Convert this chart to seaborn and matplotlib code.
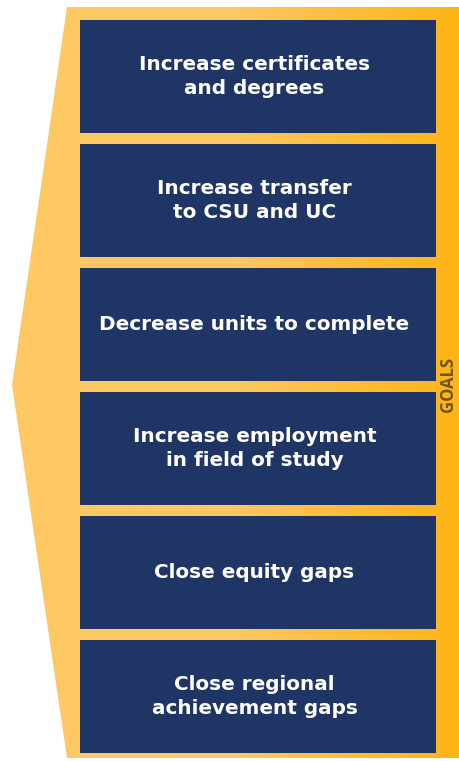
import numpy as np
import matplotlib
matplotlib.use('Agg')
import matplotlib.pyplot as plt
from matplotlib.colors import LinearSegmentedColormap
from matplotlib.patches import Polygon
import seaborn as sns

goals = [
    'Increase certificates\nand degrees',
    'Increase transfer\nto CSU and UC',
    'Decrease units to complete',
    'Increase employment\nin field of study',
    'Close equity gaps',
    'Close regional\nachievement gaps',
]
box_len = [1, 1, 1, 1, 1, 1]
side_label = 'GOALS'

NAVY = '#1f3566'
GOLD_LIGHT = '#fec862'
GOLD_DARK = '#fdb415'

sns.set_theme(style='white')
plt.rcParams['font.family'] = ['DejaVu Sans']

W, H = 460, 761
fig = plt.figure(figsize=(W / 100, H / 100), dpi=100)
fig.patch.set_facecolor('white')

# background arrow, drawn in pixel coordinates
bg = fig.add_axes([0, 0, 1, 1])
bg.set_xlim(0, W)
bg.set_ylim(H, 0)
bg.axis('off')

shape = Polygon([(67, 7), (W, 7), (W, 758), (67, 758), (12, 385)],
                closed=True, facecolor='none', edgecolor='none')
bg.add_patch(shape)
cmap = LinearSegmentedColormap.from_list('gold', [GOLD_LIGHT, GOLD_LIGHT, GOLD_DARK])
grad = np.linspace(0, 1, 256).reshape(1, -1)
img = bg.imshow(grad, cmap=cmap, extent=[12, W, 758, 7], aspect='auto')
img.set_clip_path(shape)

bg.text(448.5, 385, side_label, rotation=90, ha='center', va='center',
        fontsize=12, fontweight='bold', color='#6e5320', family='Open Sans')

# goal boxes as a horizontal bar chart
slot = 124
top, left, right = 20 - 5.5, 80, 436
ax = fig.add_axes([left / W, (H - top - slot * len(goals)) / H,
                   (right - left) / W, slot * len(goals) / H])
sns.barplot(x=box_len, y=goals, orient='h', color=NAVY, width=113 / slot,
            saturation=1, ax=ax, linewidth=0)
ax.set_xlim(0, 1)
ax.set_ylim(len(goals) - 0.5, -0.5)
ax.axis('off')
ax.patch.set_alpha(0)

for i, g in enumerate(goals):
    ax.text(0.49, i, g, ha='center', va='center', color='white',
            fontsize=14.4, fontweight='bold', linespacing=1.38)

fig.savefig('out.png', dpi=100)
